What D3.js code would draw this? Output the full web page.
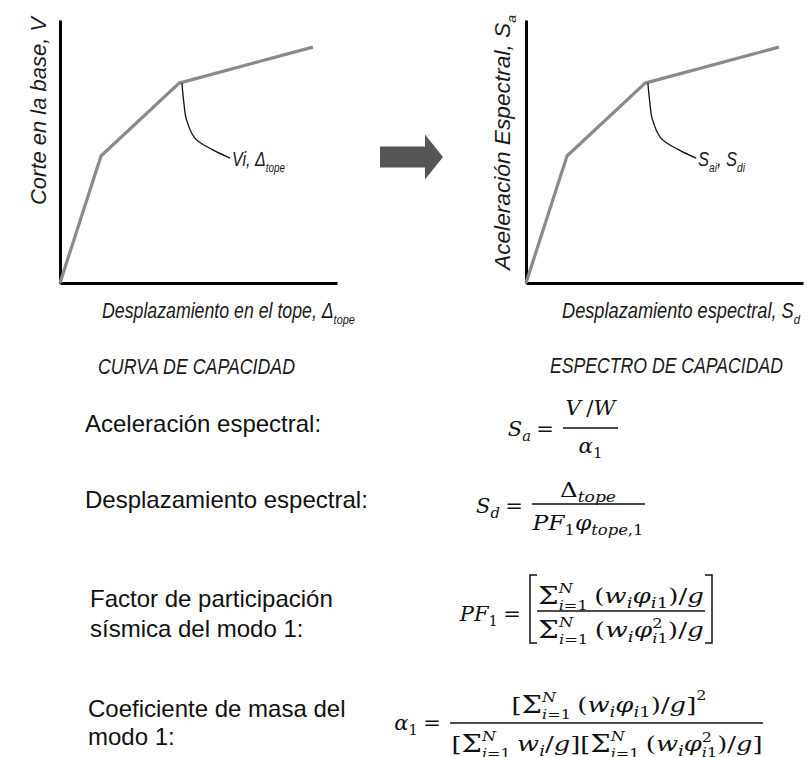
<!DOCTYPE html>
<html>
<head>
<meta charset="utf-8">
<script src="https://cdn.jsdelivr.net/npm/d3@7"></script>
<style>
  body { margin: 0; background: #fff; }
  svg { display: block; }
  .lbl { font-family: "Liberation Sans Narrow", "Arial Narrow", "Liberation Sans", Arial, sans-serif; font-style: italic; fill: #1a1a1a; }
  .body { font-family: "Liberation Sans", Arial, sans-serif; fill: #111; }
  .math { font-family: "DejaVu Serif", serif; fill: #111; }
</style>
</head>
<body>
<svg id="chart" width="810" height="757"></svg>
<script>
// capacity curve (schematic, arbitrary units 0..10)
const dispTop = [0, 1.48, 4.30, 9.13]
const shearBase = [0, 4.83, 7.60, 8.97]
// capacity spectrum (same shape, converted axes)
const specSd = [0, 1.48, 4.30, 9.13]
const specSa = [0, 4.83, 7.60, 8.97]
// leader line from the yield point to its label
const leaderX = [4.40, 4.48, 4.55, 4.87, 5.52, 6.14]
const leaderY = [7.60, 6.77, 6.27, 5.51, 5.06, 4.75]

const titles = ['CURVA DE CAPACIDAD', 'ESPECTRO DE CAPACIDAD']
const descLines = [
  ['Aceleración espectral:'],
  ['Desplazamiento espectral:'],
  ['Factor de participación', 'sísmica del modo 1:'],
  ['Coeficiente de masa del', 'modo 1:']
]

const svg = d3.select('#chart')
const W = 277, H = 263

const x = d3.scaleLinear().domain([0, 10]).range([0, W])
const y = d3.scaleLinear().domain([0, 10]).range([H, 0])

function drawPanel(ox, xs, ys) {
  // origin of the group is the top-left of the plot area
  const g = svg.append('g').attr('transform', `translate(${ox},${283 - H})`)

  g.append('g')
    .call(d3.axisLeft(y).ticks(0).tickSizeOuter(0))
    .call(s => s.select('.domain').attr('stroke', '#000').attr('stroke-width', 3))
  g.append('g')
    .attr('transform', `translate(0,${H})`)
    .call(d3.axisBottom(x).ticks(0).tickSizeOuter(0))
    .call(s => s.select('.domain').attr('stroke', '#000').attr('stroke-width', 3))

  const line = d3.line().x(d => x(d[0])).y(d => y(d[1]))
  g.append('path')
    .datum(xs.map((v, i) => [v, ys[i]]))
    .attr('d', line)
    .attr('fill', 'none')
    .attr('stroke', '#8a8a8a')
    .attr('stroke-width', 3.2)
    .attr('stroke-linejoin', 'round')

  g.append('path')
    .datum(leaderX.map((v, i) => [v, leaderY[i]]))
    .attr('d', line.curve(d3.curveCatmullRom))
    .attr('fill', 'none')
    .attr('stroke', '#111')
    .attr('stroke-width', 1.3)

  return g
}

drawPanel(60, dispTop, shearBase)
drawPanel(526, specSd, specSa)

// chart labels
function label(xp, yp, parts, size, len, rot) {
  const t = svg.append('text').attr('class', 'lbl')
    .attr('font-size', size)
    .attr('textLength', len)
    .attr('lengthAdjust', 'spacingAndGlyphs')
  if (rot) t.attr('transform', `translate(${xp},${yp}) rotate(-90)`)
  else t.attr('x', xp).attr('y', yp)
  parts.forEach(p => {
    const ts = t.append('tspan').text(p[0])
    if (p[1] === 'sub') ts.attr('font-size', size * 0.62).attr('dy', size * 0.28)
    if (p[1] === 'up') ts.attr('dy', -size * 0.28)
  })
}

label(46, 205, [['Corte en la base, V']], 22, 188, true)
label(102, 318, [['Desplazamiento en el tope, Δ'], ['tope', 'sub']], 22, 253)
label(232, 166, [['Vi, Δ'], ['tope', 'sub']], 20, 53)
label(510, 270, [['Aceleración Espectral, S'], ['a', 'sub']], 22, 255, true)
label(562, 318, [['Desplazamiento espectral, S'], ['d', 'sub']], 22, 238)
label(698, 166, [['S'], ['ai', 'sub'], [', S', 'up'], ['di', 'sub']], 20, 47)

label(98, 374, [[titles[0]]], 22, 197)
label(550, 373, [[titles[1]]], 22, 233)

// arrow between panels
svg.append('path')
  .attr('d', 'M0,-10.5 H45 V-22.5 L63,0 L45,22.5 V10.5 H0 Z')
  .attr('transform', 'translate(380,157)')
  .attr('fill', '#555')

// descriptions
const descPos = [[85, [432]], [85, [508]], [90, [607, 637]], [88, [717, 745]]]
descLines.forEach((lines, i) => {
  lines.forEach((s, j) => {
    svg.append('text').attr('class', 'body')
      .attr('x', descPos[i][0]).attr('y', descPos[i][1][j])
      .attr('font-size', 24)
      .text(s)
  })
})

// ---- math layout ----
const M = 21
function runs(str) {
  return str.match(/[A-Za-zα-ωϕ]+|[^A-Za-zα-ωϕ]+/g)
    .map(s => [s, /[A-Za-zα-ωϕ]/.test(s)])
}

function mathRow(g, tokens, size) {
  let cx = 0, prevStart = 0, prevEnd = 0
  tokens.forEach(tk => {
    const k = tk.k || 1
    const sx = tk.stack ? prevStart : cx
    const t = g.append('text').attr('class', 'math')
      .attr('x', sx).attr('y', (tk.dy || 0) * size)
      .attr('font-size', size * k)
    runs(tk.t).forEach(r => t.append('tspan').attr('font-style', r[1] ? 'italic' : 'normal').text(r[0]))
    const w = t.node().getComputedTextLength()
    if (tk.stack) { prevEnd = Math.max(prevEnd, sx + w); cx = prevEnd }
    else { prevStart = sx; prevEnd = sx + w; cx = prevEnd + (tk.gap || 0) * size }
  })
  return cx
}

const sub = t => ({ t, k: 0.7, dy: 0.22 })
const lim = [{ t: 'Σ', k: 1.12, dy: 0.04 }, { t: 'N', k: 0.62, dy: -0.5 }, { t: 'i=1', k: 0.62, dy: 0.32, stack: true }]
const sq = [{ t: '2', k: 0.62, dy: -0.45 }, { t: 'i1', k: 0.62, dy: 0.3, stack: true }]

function place(tokens, xp, yp, anchor, target) {
  const g = svg.append('g')
  const w = mathRow(g, tokens, M)
  let sx = 1
  if (target) sx = target / w
  const x0 = anchor === 'end' ? xp - w * sx : anchor === 'middle' ? xp - w * sx / 2 : xp
  g.attr('transform', `translate(${x0},${yp}) scale(${sx},1)`)
}

function bar(x0, x1, yb) {
  svg.append('line').attr('x1', x0).attr('x2', x1).attr('y1', yb).attr('y2', yb)
    .attr('stroke', '#111').attr('stroke-width', 1.3)
}

const eq = { t: '\u2005=\u2005' }

// Sa = (V/W) / α1
place([{ t: 'S' }, sub('a'), eq], 559, 436, 'end')
bar(563, 618, 428)
place([{ t: 'V\u2005/W' }], 590.5, 415, 'middle', 50)
place([{ t: 'α' }, sub('1')], 590.5, 453, 'middle', 24)

// Sd = Δtope / (PF1 φtope,1)
place([{ t: 'S' }, sub('d'), eq], 528, 513, 'end')
bar(532, 645, 504)
place([{ t: 'Δ' }, sub('tope')], 588, 497, 'middle', 56)
place([{ t: 'PF' }, sub('1'), { t: 'φ' }, sub('tope,1')], 588, 530, 'middle', 111)

// PF1
place([{ t: 'PF' }, sub('1'), eq], 526, 621, 'end')
bar(537, 705, 611)
svg.append('path').attr('d', 'M537,575 H530 V643 H537 M705,575 H712 V643 H705')
  .attr('fill', 'none').attr('stroke', '#111').attr('stroke-width', 1.5)
place([...lim, { t: '\u2005(w' }, sub('i'), { t: 'φ' }, sub('i1'), { t: ')/g' }], 621, 603, 'middle', 166)
place([...lim, { t: '\u2005(w' }, sub('i'), { t: 'φ' }, ...sq, { t: ')/g' }], 621, 637, 'middle', 166)

// α1
place([{ t: 'α' }, sub('1'), eq], 446, 730, 'end')
bar(450, 763, 723)
place([{ t: '[' }, ...lim, { t: '\u2005(w' }, sub('i'), { t: 'φ' }, sub('i1'), { t: ')/g]' }, { t: '2', k: 0.62, dy: -0.55 }], 609, 712, 'middle', 195)
place([{ t: '[' }, ...lim, { t: '\u2005w' }, sub('i'), { t: '/g][' }, ...lim, { t: '\u2005(w' }, sub('i'), { t: 'φ' }, ...sq, { t: ')/g]' }], 607, 751, 'middle', 311)
</script>
</body>
</html>
